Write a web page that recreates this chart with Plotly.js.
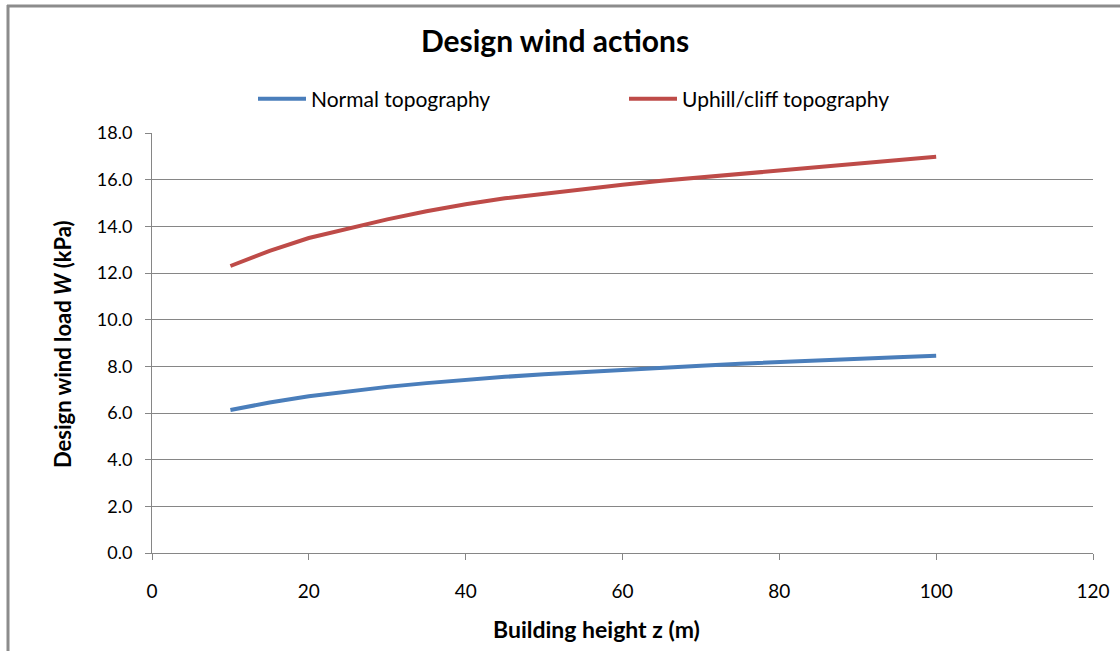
<!DOCTYPE html>
<html>
<head>
<meta charset="utf-8">
<script src="https://cdn.plot.ly/plotly-3.0.1.min.js"></script>
<style>html,body{margin:0;padding:0;background:#fff;}#chart{width:1120px;height:651px;}</style>
</head>
<body>
<div id="chart"></div>
<script>
const heights = [10,15,20,25,30,35,40,45,50,55,60,65,70,75,80,85,90,95,100];
const normalTopo = [6.13,6.45,6.72,6.93,7.12,7.28,7.43,7.55,7.66,7.76,7.86,7.95,8.03,8.11,8.19,8.26,8.33,8.39,8.45];
const uphillTopo = [12.30,12.95,13.50,13.90,14.30,14.65,14.95,15.20,15.40,15.60,15.78,15.95,16.10,16.25,16.40,16.57,16.72,16.85,16.98];
const seriesNames = ["Normal topography","Uphill/cliff topography"];

const FONT = "Lato, 'Open Sans', sans-serif";
const L = 152, R = 27, T = 133, B = 98, W = 1120, H = 651;
const pw = W - L - R, ph = H - T - B;
const px = v => (v - L) / pw;
const py = v => (H - B - v) / ph;

const traces = [
  {x: heights, y: normalTopo, name: seriesNames[0], mode: 'lines', line: {color: '#4A7EBB', width: 4}},
  {x: heights, y: uphillTopo, name: seriesNames[1], mode: 'lines', line: {color: '#BE4B48', width: 4}}
];

const layout = {
  width: W, height: H,
  margin: {l: L, r: R, t: T, b: B},
  paper_bgcolor: '#fff', plot_bgcolor: '#fff',
  font: {family: FONT, color: '#000', size: 16},
  title: {text: '<b>Design wind actions</b>', font: {family: FONT, size: 30, color: '#000'},
          xref: 'container', x: 555/1120, xanchor: 'center', yref: 'container', y: 1 - 41/651, yanchor: 'middle'},
  showlegend: true,
  legend: {orientation: 'h', x: px(253), xanchor: 'left', y: py(99), yanchor: 'middle',
           entrywidth: 308, font: {family: FONT, size: 21}, bgcolor: 'rgba(0,0,0,0)', itemwidth: 48},
  xaxis: {range: [0, 120], tickvals: [0,20,40,60,80,100,120], ticks: 'outside', ticklen: 6, tickcolor: '#868686',
          showline: true, linecolor: '#868686', linewidth: 1, showgrid: false, zeroline: false,
          ticklabelstandoff: 15, tickfont: {family: FONT, size: 19}, fixedrange: true},
  yaxis: {range: [0, 18], tickvals: [0,2,4,6,8,10,12,14,16,18], tickformat: '.1f', ticks: 'outside', ticklen: 6,
          tickcolor: '#868686', showline: true, linecolor: '#868686', linewidth: 1,
          showgrid: true, gridcolor: '#868686', gridwidth: 1, zeroline: false,
          ticklabelstandoff: 9, tickfont: {family: FONT, size: 18}, fixedrange: true},
  annotations: [
    {text: '<b>Building height z (m)</b>', xref: 'paper', yref: 'paper', x: px(596), y: py(629),
     xanchor: 'center', yanchor: 'middle', showarrow: false, font: {family: FONT, size: 23}},
    {text: '<b>Design wind load <i>W</i> (kPa)</b>', xref: 'paper', yref: 'paper', x: px(62), y: py(344),
     xanchor: 'center', yanchor: 'middle', textangle: -90, showarrow: false, font: {family: FONT, size: 22}}
  ],
  shapes: [
    {type: 'line', xref: 'paper', yref: 'paper', x0: px(8), x1: px(8), y0: py(5), y1: py(651), line: {color: '#8c8c8c', width: 3}},
    {type: 'line', xref: 'paper', yref: 'paper', x0: px(7), x1: px(1120), y0: py(6), y1: py(6), line: {color: '#8c8c8c', width: 3}}
  ]
};

Plotly.newPlot('chart', traces, layout, {staticPlot: true, displayModeBar: false});
</script>
</body>
</html>
